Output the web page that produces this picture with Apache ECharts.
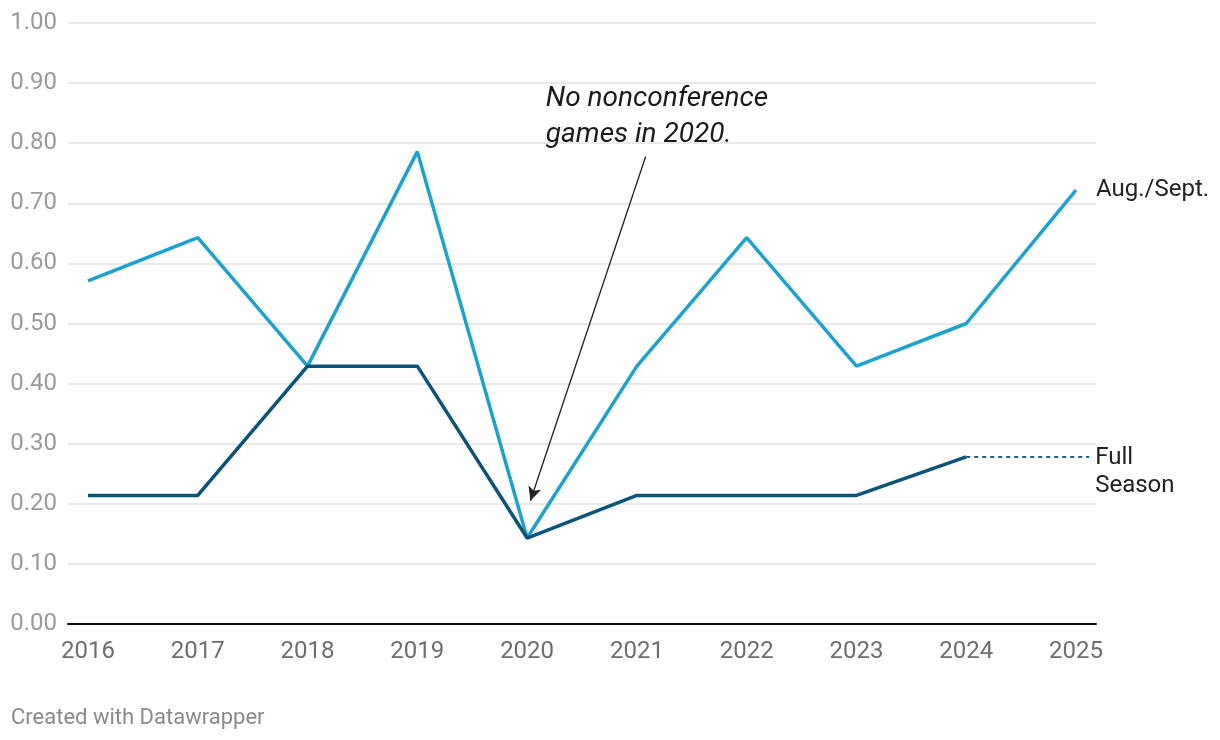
<!DOCTYPE html>
<html><head><meta charset="utf-8">
<script src="https://cdn.jsdelivr.net/npm/echarts@6/dist/echarts.min.js"></script>
<style>html,body{margin:0;padding:0;background:#fff}#c{width:1220px;height:740px}</style>
</head><body><div id="c"></div>
<script>
const years = [2016, 2017, 2018, 2019, 2020, 2021, 2022, 2023, 2024, 2025];
const augSept = [0.571, 0.643, 0.429, 0.786, 0.143, 0.429, 0.643, 0.429, 0.5, 0.722];
const fullSeason = [0.214, 0.214, 0.429, 0.429, 0.143, 0.214, 0.214, 0.214, 0.278, null];
const yTicks = [0, 0.1, 0.2, 0.3, 0.4, 0.5, 0.6, 0.7, 0.8, 0.9, 1.0];
const annotationText = 'No nonconference\ngames in 2020.';

const pairs = (arr) => years.map((y, i) => [y, arr[i]]).filter(p => p[1] != null);
const lastFull = pairs(fullSeason).slice(-1)[0];
const dashed = [lastFull, [years[years.length - 1] + 0.12, lastFull[1]]];

const chart = echarts.init(document.getElementById('c'));
chart.setOption({
  animation: false,
  textStyle: { fontFamily: 'Roboto' },
  grid: { left: 68, right: 124, top: 23, bottom: 116 },
  xAxis: {
    type: 'value', min: 2015.818, max: 2025.182,
    axisLine: { show: true, lineStyle: { color: '#111', width: 2 } },
    axisTick: { show: false },
    splitLine: { show: false },
    axisLabel: { customValues: years, color: '#6e6e6e', fontSize: 24, margin: 16,
      formatter: v => String(Math.round(v)) }
  },
  yAxis: {
    type: 'value', min: 0, max: 1, interval: 0.1,
    axisLine: { show: false }, axisTick: { show: false },
    splitLine: { lineStyle: { color: '#e2e2e2', width: 1.5 } },
    axisLabel: { color: '#9a9a9a', fontSize: 24, margin: 11, formatter: v => v.toFixed(2) }
  },
  series: [
    {
      type: 'line', name: 'Aug./Sept.', data: pairs(augSept), symbol: 'none',
      lineStyle: { color: '#1aa3d0', width: 3.5 }, itemStyle: { color: '#1aa3d0' },
      endLabel: { show: true, formatter: 'Aug./Sept.', color: '#222', fontSize: 24, distance: 20, offset: [0, 0] },
      z: 3
    },
    {
      type: 'line', name: 'Full Season', data: pairs(fullSeason), symbol: 'none',
      lineStyle: { color: '#0a5379', width: 3.5 }, itemStyle: { color: '#0a5379' }, z: 4,
      markLine: {
        silent: true, symbol: ['none', 'arrow'], symbolSize: [10, 14],
        lineStyle: { color: '#222', width: 1.3, type: 'solid' },
        label: { show: false },
        data: [[{ coord: [2021.08, 0.778] }, { coord: [2020.03, 0.205] }]]
      },
      markPoint: {
        symbolSize: 0,
        label: { show: true, formatter: annotationText, position: 'right', distance: 0,
          fontStyle: 'italic', fontSize: 28, lineHeight: 36, color: '#1a1a1a', align: 'left' },
        data: [{ coord: [2020.17, 0.843] }]
      }
    },
    {
      type: 'line', name: 'Full Season ext', data: dashed, symbol: 'none',
      lineStyle: { color: '#0a5379', width: 1.8, type: [4, 4] },
      endLabel: { show: true, formatter: 'Full\nSeason', color: '#222', fontSize: 24, lineHeight: 28,
        distance: 6, offset: [0, 15] }
    }
  ],
  graphic: [{
    type: 'text', left: 11, top: 707,
    style: { text: 'Created with Datawrapper', fill: '#8a8a8a', fontSize: 22, fontFamily: 'Roboto' }
  }]
});
</script></body></html>
